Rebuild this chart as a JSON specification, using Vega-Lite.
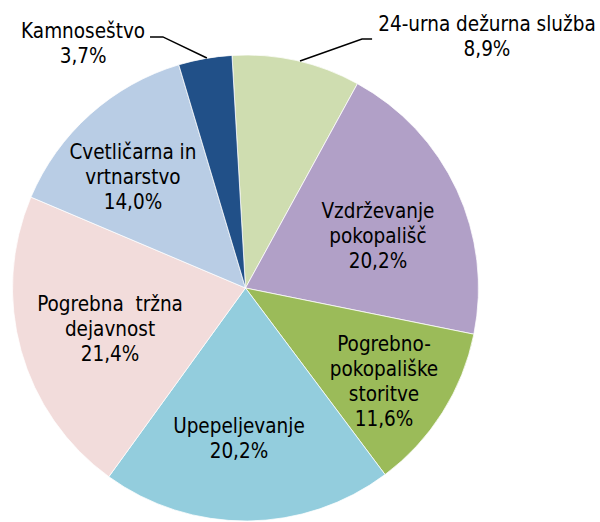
{
  "$schema": "https://vega.github.io/schema/vega-lite/v6.json",
  "width": 600,
  "height": 522,
  "padding": 0,
  "autosize": {"type": "none"},
  "background": "white",
  "config": {"view": {"stroke": null}},
  "datasets": {
    "slices": [
      {"cat": "24-urna dežurna služba", "value": 8.9, "ord": 1},
      {"cat": "Vzdrževanje pokopališč", "value": 20.2, "ord": 2},
      {"cat": "Pogrebno-pokopališke storitve", "value": 11.6, "ord": 3},
      {"cat": "Upepeljevanje", "value": 20.2, "ord": 4},
      {"cat": "Pogrebna tržna dejavnost", "value": 21.4, "ord": 5},
      {"cat": "Cvetličarna in vrtnarstvo", "value": 14.0, "ord": 6},
      {"cat": "Kamnoseštvo", "value": 3.7, "ord": 7}
    ],
    "labels": [
      {"label": "Kamnoseštvo\n3,7%", "u": -0.694, "v": 1.094},
      {"label": "24-urna dežurna služba\n8,9%", "u": 1.032, "v": 1.124},
      {"label": "Vzdrževanje\npokopališč\n20,2%", "u": 0.566, "v": 0.325},
      {"label": "Pogrebno-\npokopališke\nstoritve\n11,6%", "u": 0.592, "v": -0.2436},
      {"label": "Upepeljevanje\n20,2%", "u": -0.028, "v": -0.594},
      {"label": "Pogrebna\u00a0 tržna\ndejavnost\n21,4%", "u": -0.579, "v": -0.0726},
      {"label": "Cvetličarna in\nvrtnarstvo\n14,0%", "u": -0.481, "v": 0.577}
    ],
    "leaders": [
      {"g": "a", "o": 1, "u": -0.408, "v": 1.073},
      {"g": "a", "o": 2, "u": -0.353, "v": 1.073},
      {"g": "a", "o": 3, "u": -0.165, "v": 0.983},
      {"g": "b", "o": 1, "u": 0.233, "v": 0.97},
      {"g": "b", "o": 2, "u": 0.498, "v": 1.064},
      {"g": "b", "o": 3, "u": 0.541, "v": 1.064}
    ]
  },
  "layer": [
    {
      "data": {"name": "slices"},
      "mark": {"type": "arc", "radius": 233, "stroke": "white", "strokeWidth": 0.75},
      "encoding": {
        "x": {"datum": 0, "type": "quantitative", "scale": {"domain": [-1.0491, 1.515], "nice": false, "zero": false}, "axis": null},
        "y": {"datum": 0, "type": "quantitative", "scale": {"domain": [-1.0, 1.2308], "nice": false, "zero": false}, "axis": null},
        "theta": {"field": "value", "type": "quantitative", "stack": true, "scale": {"range": [-0.058, 6.2252]}},
        "order": {"field": "ord", "type": "quantitative"},
        "color": {
          "field": "cat", "type": "nominal", "legend": null,
          "scale": {
            "domain": ["24-urna dežurna služba", "Vzdrževanje pokopališč", "Pogrebno-pokopališke storitve", "Upepeljevanje", "Pogrebna tržna dejavnost", "Cvetličarna in vrtnarstvo", "Kamnoseštvo"],
            "range": ["#cfddb0", "#b1a0c7", "#9bbb59", "#93cddd", "#f2dcdb", "#b9cde5", "#215088"]
          }
        }
      }
    },
    {
      "data": {"name": "leaders"},
      "mark": {"type": "line", "color": "black", "strokeWidth": 1.5},
      "encoding": {
        "x": {"field": "u", "type": "quantitative"},
        "y": {"field": "v", "type": "quantitative"},
        "detail": {"field": "g"},
        "order": {"field": "o", "type": "quantitative"}
      }
    },
    {
      "data": {"name": "labels"},
      "mark": {"type": "text", "font": "DejaVu Sans Condensed", "fontSize": 20.5, "lineHeight": 25, "lineBreak": "\n", "align": "center", "baseline": "middle", "color": "black"},
      "encoding": {
        "x": {"field": "u", "type": "quantitative"},
        "y": {"field": "v", "type": "quantitative"},
        "text": {"field": "label", "type": "nominal"}
      }
    }
  ]
}
